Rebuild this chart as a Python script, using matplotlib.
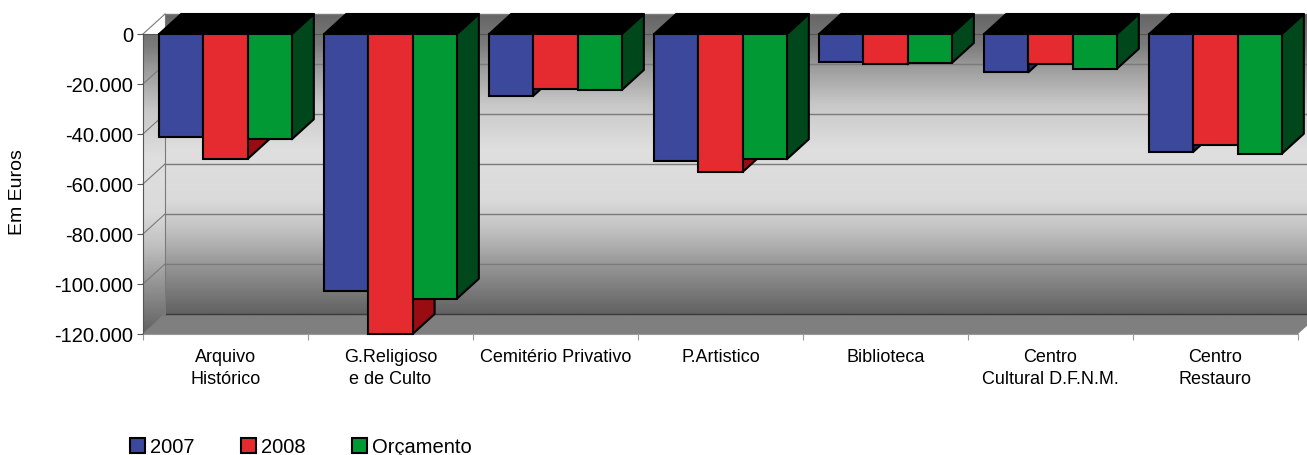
import matplotlib
matplotlib.use('Agg')
import matplotlib.pyplot as plt
import numpy as np
from matplotlib.collections import PolyCollection
from matplotlib.colors import LinearSegmentedColormap
from matplotlib.patches import Patch, Polygon
from matplotlib.ticker import FuncFormatter

plt.rcParams['font.family'] = ['Liberation Sans', 'DejaVu Sans']

categories = ['Arquivo\nHistórico', 'G.Religioso\ne de Culto', 'Cemitério Privativo',
              'P.Artistico', 'Biblioteca', 'Centro\nCultural D.F.N.M.', 'Centro\nRestauro']
series_names = ['2007', '2008', 'Orçamento']
v2007 = [-41300, -102700, -24700, -50700, -11300, -15300, -47100]
v2008 = [-50000, -120000, -21900, -55200, -12100, -12000, -44400]
orcamento = [-42100, -105900, -22400, -50100, -11600, -13900, -47900]

face_cols = ['#3c489c', '#e52b30', '#009933']
side_cols = ['#242c68', '#980c12', '#00471b']

YMIN, YMAX = -120000, 0
DX, DY = 22 / 165, 8000     # depth of the 3d box, in data units
W = 0.268                   # width of one bar

fig = plt.figure(figsize=(13.07, 4.55), dpi=100)
ax = fig.add_axes([143 / 1307, 121 / 455, 1155 / 1307, 300 / 455])
n = len(categories)
x = np.arange(n)
left, right = -0.5, n - 0.5

# gradient wall behind the bars
wall_cmap = LinearSegmentedColormap.from_list('wall', [
    (0.00, '#666666'), (0.10, '#7c7c7c'), (0.17, '#9a9a9a'), (0.30, '#c8c8c8'),
    (0.45, '#dfdfdf'), (0.62, '#dadada'), (0.72, '#c2c2c2'), (0.84, '#969696'),
    (1.00, '#626262')])
grad = np.linspace(0, 1, 300).reshape(-1, 1)
ax.imshow(grad, cmap=wall_cmap, aspect='auto', origin='upper', zorder=0, clip_on=False,
          extent=[left + DX, right + DX, YMIN + DY, YMAX + DY], interpolation='bilinear')
side_wall = Polygon([(left, YMIN), (left + DX, YMIN + DY), (left + DX, YMAX + DY), (left, YMAX)],
                    closed=True, facecolor='none', edgecolor='none')
ax.add_patch(side_wall)
im = ax.imshow(grad, cmap=wall_cmap, aspect='auto', origin='upper', zorder=0.1,
               extent=[left, left + DX, YMIN, YMAX + DY], interpolation='bilinear')
im.set_clip_path(side_wall)

# floor
ax.add_patch(Polygon([(left, YMIN), (right, YMIN), (right + DX, YMIN + DY), (left + DX, YMIN + DY)],
                     closed=True, facecolor='#7f7f7f', edgecolor='none', zorder=0.5, clip_on=False))
ax.plot([left + DX, right + DX], [YMIN + DY, YMIN + DY], color='#3a3a3a', lw=1, zorder=0.6,
        clip_on=False)

# gridlines on the back and side walls
yticks = np.arange(YMIN, YMAX + 1, 20000)
for v in yticks[1:]:
    ax.plot([left + DX, right + DX], [v + DY, v + DY], color='#7a7a7a', lw=1, zorder=0.6,
            clip_on=False)
for v in yticks:
    ax.plot([left, left + DX], [v, v + DY], color='#7a7a7a', lw=0.8, zorder=0.6, clip_on=False)
ax.plot([left + DX, left + DX], [YMIN + DY, YMAX + DY], color='#7a7a7a', lw=0.8, zorder=0.6,
        clip_on=False)

# zero line across the front with its category ticks
ax.plot([left, right], [0, 0], color='#555555', lw=0.8, zorder=0.7, clip_on=False)
ax.vlines(np.arange(n + 1) - 0.5, -2400, 0, color='#555555', lw=0.8, zorder=0.7, clip_on=False)

for j, vals in enumerate([v2007, v2008, orcamento]):
    xs = x + (j - 1) * W
    sides, tops = [], []
    for xc, v in zip(xs, vals):
        xl, xr = xc - W / 2, xc + W / 2
        sides.append([(xr, 0), (xr + DX, DY), (xr + DX, v + DY), (xr, v)])
        tops.append([(xl, 0), (xr, 0), (xr + DX, DY), (xl + DX, DY)])
    ax.add_collection(PolyCollection(sides, facecolors=side_cols[j], edgecolors='black',
                                     linewidths=1.5, zorder=2.6 + 2 * j, clip_on=False))
    ax.add_collection(PolyCollection(tops, facecolors='black', edgecolors='black',
                                     linewidths=1.5, zorder=2.8 + 2 * j, clip_on=False))
    ax.bar(xs, vals, W, color=face_cols[j], edgecolor='black', linewidth=1.5,
           zorder=3 + 2 * j, clip_on=False)

ax.set_xlim(left, right)
ax.set_ylim(YMIN, YMAX)
for s in ['top', 'right']:
    ax.spines[s].set_visible(False)
ax.spines['left'].set_color('#555555')
ax.spines['left'].set_linewidth(0.8)
ax.spines['bottom'].set_color('#999999')
ax.spines['bottom'].set_linewidth(0.8)
ax.spines['left'].set_zorder(0.8)
ax.spines['bottom'].set_zorder(0.8)

ax.set_yticks(yticks)
ax.yaxis.set_major_formatter(FuncFormatter(lambda v, p: f'{int(v):,}'.replace(',', '.')))
ax.tick_params(axis='y', length=4, width=0.8, color='#555555', labelsize=14.5, pad=3)
ax.set_xticks(x)
ax.set_xticklabels(categories, fontsize=13, linespacing=1.35)
ax.set_xticks(np.arange(n + 1) - 0.5, minor=True)
ax.tick_params(axis='x', which='major', length=0, pad=11)
ax.tick_params(axis='x', which='minor', length=4, width=0.8, color='#999999')

ax.set_ylabel('Em Euros', fontsize=14)
ax.yaxis.set_label_coords(-0.101, 0.473)

handles = [Patch(facecolor=c, edgecolor='black', linewidth=1.5) for c in face_cols]
fig.legend(handles, series_names, loc='lower left', bbox_to_anchor=(130 / 1307, -0.004),
           ncol=3, frameon=False, fontsize=14.5, handlelength=0.75, handleheight=0.75,
           handletextpad=0.25, columnspacing=2.3, borderpad=0, borderaxespad=0)

fig.savefig('out.png', dpi=100)
